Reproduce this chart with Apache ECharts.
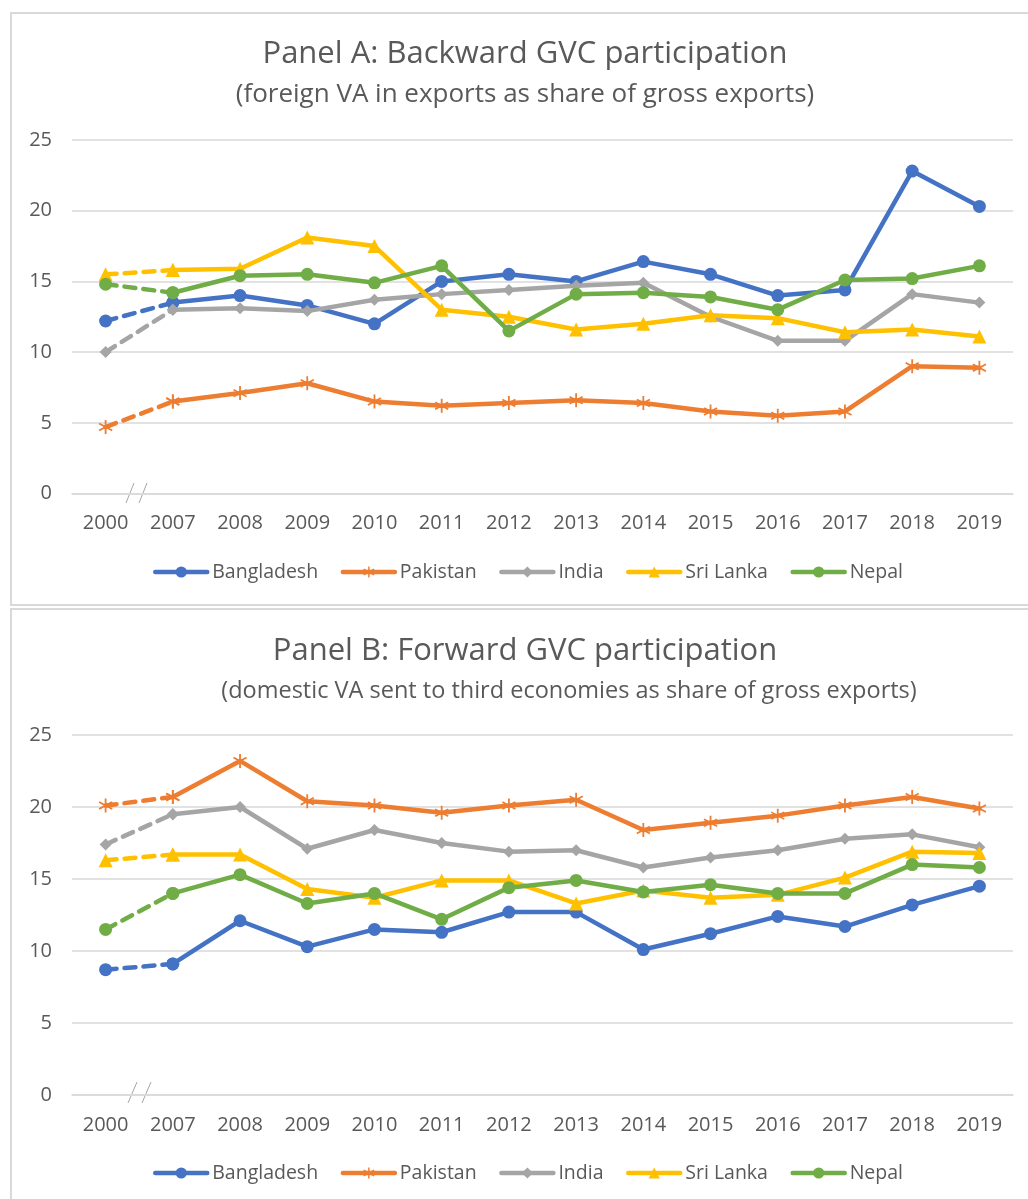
<!DOCTYPE html>
<html><head><meta charset="utf-8">
<script src="https://cdn.jsdelivr.net/npm/echarts@6/dist/echarts.min.js"></script>
<style>html,body{margin:0;padding:0;background:#fff;} #main{width:1028px;height:1199px;}</style>
</head><body><div id="main"></div>
<script>
// ---- data ----
const years = ['2000','2007','2008','2009','2010','2011','2012','2013','2014','2015','2016','2017','2018','2019'];
const countries = ['Bangladesh','Pakistan','India','Sri Lanka','Nepal'];
const yTicks = [0, 5, 10, 15, 20, 25];

// Panel A: backward GVC participation
const bangladeshA = [12.2, 13.5, 14.0, 13.3, 12.0, 15.0, 15.5, 15.0, 16.4, 15.5, 14.0, 14.4, 22.8, 20.3];
const pakistanA   = [4.7, 6.5, 7.1, 7.8, 6.5, 6.2, 6.4, 6.6, 6.4, 5.8, 5.5, 5.8, 9.0, 8.9];
const indiaA      = [10.0, 13.0, 13.1, 12.9, 13.7, 14.1, 14.4, 14.7, 14.9, 12.5, 10.8, 10.8, 14.1, 13.5];
const sriLankaA   = [15.5, 15.8, 15.9, 18.1, 17.5, 13.0, 12.5, 11.6, 12.0, 12.6, 12.4, 11.4, 11.6, 11.1];
const nepalA      = [14.8, 14.2, 15.4, 15.5, 14.9, 16.1, 11.5, 14.1, 14.2, 13.9, 13.0, 15.1, 15.2, 16.1];

// Panel B: forward GVC participation
const bangladeshB = [8.7, 9.1, 12.1, 10.3, 11.5, 11.3, 12.7, 12.7, 10.1, 11.2, 12.4, 11.7, 13.2, 14.5];
const pakistanB   = [20.1, 20.7, 23.2, 20.4, 20.1, 19.6, 20.1, 20.5, 18.4, 18.9, 19.4, 20.1, 20.7, 19.9];
const indiaB      = [17.4, 19.5, 20.0, 17.1, 18.4, 17.5, 16.9, 17.0, 15.8, 16.5, 17.0, 17.8, 18.1, 17.2];
const sriLankaB   = [16.3, 16.7, 16.7, 14.3, 13.7, 14.9, 14.9, 13.3, 14.2, 13.7, 13.9, 15.1, 16.9, 16.8];
const nepalB      = [11.5, 14.0, 15.3, 13.3, 14.0, 12.2, 14.4, 14.9, 14.1, 14.6, 14.0, 14.0, 16.0, 15.8];

const titlesA = ['Panel A: Backward GVC participation', '(foreign VA in exports as share of gross exports)'];
const titlesB = ['Panel B: Forward GVC participation', '(domestic VA sent to third economies as share of gross exports)'];

// ---- styling ----
const FONT = 'Open Sans';
const TXT = '#595959';
const GRID = '#d9d9d9';
const colors = ['#4472C4', '#ED7D31', '#A5A5A5', '#FFC000', '#70AD47'];
const starPath = 'path://M8.8 0L11.2 0L11.2 20L8.8 20Z M0.74 6.04L1.94 3.96L19.26 13.96L18.06 16.04Z M1.94 16.04L0.74 13.96L18.06 3.96L19.26 6.04Z';
const symbols = ['circle', starPath, 'diamond', 'triangle', 'circle'];
const symbolSizes = [13, 14, 12, 14, 13];

const panelData = [
  [bangladeshA, pakistanA, indiaA, sriLankaA, nepalA],
  [bangladeshB, pakistanB, indiaB, sriLankaB, nepalB]
];

const series = [];
panelData.forEach((set, p) => {
  set.forEach((vals, i) => {
    const solid = vals.map((v, k) => k === 0 ? '-' : v);
    const dashed = vals.map((v, k) => k <= 1 ? v : '-');
    const common = {
      type: 'line', name: countries[i], xAxisIndex: p, yAxisIndex: p,
      symbol: symbols[i], symbolSize: symbolSizes[i], showAllSymbol: true,
      itemStyle: { color: colors[i] }, animation: false, z: 2 + i
    };
    series.push(Object.assign({}, common, {
      data: solid,
      lineStyle: { color: colors[i], width: 4.5, cap: 'round', join: 'round' }
    }));
    series.push(Object.assign({}, common, {
      data: dashed,
      lineStyle: { color: colors[i], width: 4.5, type: [11, 8], cap: 'round' }
    }));
  });
});

const gridTops = [140, 735];
const gridHeights = [353.5, 360];
const legendTops = [557, 1158];

function xAxis(p) {
  return {
    type: 'category', gridIndex: p, data: years, boundaryGap: true,
    axisLine: { show: true, lineStyle: { color: GRID, width: 1.5 } },
    axisTick: { show: false },
    axisLabel: { color: TXT, fontFamily: FONT, fontSize: 20, margin: 20 }
  };
}
function yAxis(p) {
  return {
    type: 'value', gridIndex: p, min: yTicks[0], max: yTicks[yTicks.length - 1], interval: yTicks[1] - yTicks[0],
    axisLine: { show: false }, axisTick: { show: false },
    splitLine: { lineStyle: { color: GRID, width: 1.5 } },
    axisLabel: { color: TXT, fontFamily: FONT, fontSize: 20, margin: 20 }
  };
}
function legend(p) {
  return {
    data: countries, left: 148, top: legendTops[p], itemWidth: 52, itemHeight: 14, itemGap: 22.5,
    lineStyle: { width: 4.5 },
    textStyle: { color: TXT, fontFamily: FONT, fontSize: 19.5 }, selectedMode: false
  };
}

const option = {
  backgroundColor: '#ffffff',
  title: [
    { text: titlesA[0], left: 520, textAlign: 'center', top: 34, textStyle: { color: TXT, fontFamily: FONT, fontSize: 31, fontWeight: 'normal' } },
    { text: titlesA[1], left: 520, textAlign: 'center', top: 77, textStyle: { color: TXT, fontFamily: FONT, fontSize: 26, fontWeight: 'normal' } },
    { text: titlesB[0], left: 520, textAlign: 'center', top: 631, textStyle: { color: TXT, fontFamily: FONT, fontSize: 31, fontWeight: 'normal' } },
    { text: titlesB[1], left: 564, textAlign: 'center', top: 674, textStyle: { color: TXT, fontFamily: FONT, fontSize: 23.5, fontWeight: 'normal' } }
  ],
  grid: [0, 1].map(p => ({ left: 72, width: 941, top: gridTops[p], height: gridHeights[p] })),
  xAxis: [xAxis(0), xAxis(1)],
  yAxis: [yAxis(0), yAxis(1)],
  legend: [legend(0), legend(1)],
  series: series,
  graphic: [
    { type: 'rect', shape: { x: 11, y: 13, width: 1040, height: 592 }, style: { fill: 'none', stroke: GRID, lineWidth: 2 }, z: -1 },
    { type: 'rect', shape: { x: 11, y: 609, width: 1040, height: 620 }, style: { fill: 'none', stroke: GRID, lineWidth: 2 }, z: -1 },
    { type: 'line', shape: { x1: 126, y1: 503, x2: 134, y2: 483 }, style: { stroke: '#a6a6a6', lineWidth: 1 } },
    { type: 'line', shape: { x1: 139, y1: 503, x2: 147, y2: 483 }, style: { stroke: '#a6a6a6', lineWidth: 1 } },
    { type: 'line', shape: { x1: 128, y1: 1103, x2: 137, y2: 1082 }, style: { stroke: '#a6a6a6', lineWidth: 1 } },
    { type: 'line', shape: { x1: 142, y1: 1103, x2: 151, y2: 1082 }, style: { stroke: '#a6a6a6', lineWidth: 1 } }
  ]
};

const chart = echarts.init(document.getElementById('main'), null, { renderer: 'canvas' });
chart.setOption(option);
</script>
</body></html>
